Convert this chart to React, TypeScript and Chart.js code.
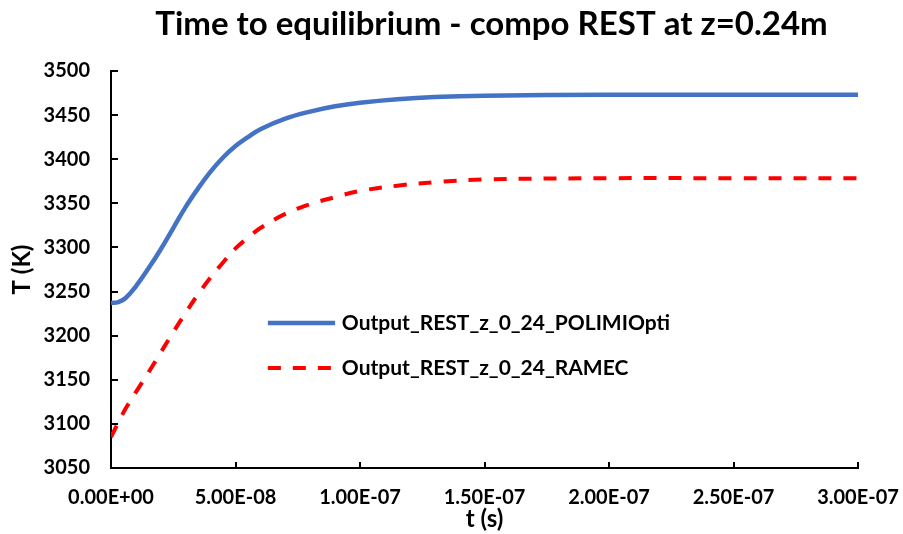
import React, { useEffect, useRef } from "react";
import { Chart, registerables } from "chart.js";

Chart.register(...registerables);

const TITLE = "Time to equilibrium - compo REST at z=0.24m";
const X_TITLE = "t (s)";
const Y_TITLE = "T (K)";
const SERIES_NAMES = ["Output_REST_z_0_24_POLIMIOpti", "Output_REST_z_0_24_RAMEC"];

// time in nanoseconds
const timeNs = [0, 3, 6, 10, 15, 20, 25, 30, 35, 40, 45, 50, 55, 60, 70, 80, 90, 100, 115, 130, 150, 200, 250, 300];
const polimiT = [3237, 3238, 3243, 3256, 3276, 3298, 3322, 3346, 3367, 3386, 3402, 3415, 3425, 3434, 3446, 3454, 3460, 3464, 3468, 3470.5, 3472, 3473, 3473, 3473];
const ramecT = [3085, 3102, 3118, 3136, 3158, 3181, 3204, 3226, 3247, 3266, 3283, 3299, 3311, 3322, 3338, 3349, 3357, 3364, 3370, 3374, 3377, 3378.5, 3378.5, 3378.5];

const Y_MIN = 3050;
const Y_MAX = 3500;
const Y_STEP = 50;
const X_MIN = 0;
const X_MAX = 3e-7;
const X_STEP = 5e-8;

const FONT = "Lato";

function fmtSci(v: number): string {
  if (Math.abs(v) < 1e-20) return "0.00E+00";
  const [m, e] = v.toExponential(2).split("e");
  const n = parseInt(e, 10);
  const sign = n < 0 ? "-" : "+";
  return m + "E" + sign + String(Math.abs(n)).padStart(2, "0");
}

export default function App() {
  const ref = useRef<HTMLCanvasElement | null>(null);

  useEffect(() => {
    document.body.style.margin = "0";
    const canvas = ref.current;
    if (!canvas) return;

    const innerTicks = {
      id: "innerTicks",
      afterDraw(chart: any) {
        const ctx = chart.ctx;
        const ca = chart.chartArea;
        const xs = chart.scales.x;
        const ys = chart.scales.y;
        ctx.save();
        ctx.strokeStyle = "#000";
        ctx.lineWidth = 2;
        ctx.beginPath();
        xs.ticks.forEach((t: any) => {
          const px = Math.round(xs.getPixelForValue(t.value));
          ctx.moveTo(px, ca.bottom);
          ctx.lineTo(px, ca.bottom - 6);
        });
        ys.ticks.forEach((t: any) => {
          const py = Math.round(ys.getPixelForValue(t.value));
          ctx.moveTo(ca.left, py);
          ctx.lineTo(ca.left + 7, py);
        });
        ctx.stroke();
        ctx.restore();
      },
    };

    const titleAndLegend = {
      id: "titleAndLegend",
      afterDraw(chart: any) {
        const ctx = chart.ctx;
        const ca = chart.chartArea;
        const w = ca.right - ca.left;
        const h = ca.bottom - ca.top;
        ctx.save();
        // Title
        ctx.fillStyle = "#000";
        ctx.font = `bold 33px ${FONT}`;
        ctx.textAlign = "center";
        ctx.textBaseline = "middle";
        ctx.fillText(TITLE, (ca.left + ca.right) / 2 + 7, 24);
        // Legend
        const x0 = ca.left + 0.21 * w;
        const x1 = ca.left + 0.3 * w;
        const tx = ca.left + 0.309 * w;
        const ys = [ca.top + 0.635 * h, ca.top + 0.748 * h];
        chart.data.datasets.forEach((ds: any, i: number) => {
          ctx.beginPath();
          ctx.strokeStyle = ds.borderColor;
          ctx.lineWidth = ds.borderWidth;
          ctx.setLineDash(ds.borderDash || []);
          ctx.lineCap = "butt";
          ctx.moveTo(x0, ys[i]);
          ctx.lineTo(x1, ys[i]);
          ctx.stroke();
          ctx.setLineDash([]);
          ctx.fillStyle = "#000";
          ctx.font = `bold 21px ${FONT}`;
          ctx.textAlign = "left";
          ctx.textBaseline = "middle";
          ctx.fillText(ds.label, tx, ys[i]);
        });
        ctx.restore();
      },
    };

    const chart = new Chart(canvas, {
      type: "line",
      data: {
        datasets: [
          {
            label: SERIES_NAMES[0],
            data: timeNs.map((t, i) => ({ x: t * 1e-9, y: polimiT[i] })),
            borderColor: "#4472C4",
            backgroundColor: "#4472C4",
            borderWidth: 4.5,
            pointRadius: 0,
            tension: 0.4,
            fill: false,
          },
          {
            label: SERIES_NAMES[1],
            data: timeNs.map((t, i) => ({ x: t * 1e-9, y: ramecT[i] })),
            borderColor: "#FF0000",
            backgroundColor: "#FF0000",
            borderWidth: 4,
            borderDash: [13, 12],
            pointRadius: 0,
            tension: 0.4,
            fill: false,
          },
        ],
      },
      options: {
        animation: false,
        responsive: false,
        maintainAspectRatio: false,
        layout: { padding: { top: 71, right: 45, bottom: 0, left: 0 } },
        plugins: {
          legend: { display: false },
          title: { display: false },
          tooltip: { enabled: false },
        },
        scales: {
          x: {
            type: "linear",
            min: X_MIN,
            max: X_MAX,
            afterFit: (s: any) => {
              s.height = 66;
              s.paddingLeft = 0;
              s.paddingRight = 0;
            },
            grid: { display: true, drawOnChartArea: false, drawTicks: false },
            border: { display: true, color: "#000", width: 2 },
            ticks: {
              stepSize: X_STEP,
              autoSkip: false,
              maxRotation: 0,
              padding: 18,
              color: "#000",
              font: { family: FONT, size: 20, weight: "bold" },
              callback: (v: any) => fmtSci(Number(v)),
            },
            title: {
              display: true,
              text: X_TITLE,
              color: "#000",
              font: { family: FONT, size: 24, weight: "bold" },
              padding: { top: 0, bottom: 0 },
            },
          },
          y: {
            type: "linear",
            min: Y_MIN,
            max: Y_MAX,
            afterFit: (s: any) => {
              s.width = 111;
              s.paddingTop = 0;
              s.paddingBottom = 0;
            },
            grid: { display: true, drawOnChartArea: false, drawTicks: false },
            border: { display: true, color: "#000", width: 2 },
            ticks: {
              stepSize: Y_STEP,
              autoSkip: false,
              padding: 21,
              color: "#000",
              font: { family: FONT, size: 20, weight: "bold" },
              callback: (v: any) => String(Math.round(Number(v))),
            },
            title: {
              display: true,
              text: Y_TITLE,
              color: "#000",
              font: { family: FONT, size: 24, weight: "bold" },
              padding: { top: 8, bottom: 0 },
            },
          },
        },
      },
      plugins: [innerTicks, titleAndLegend],
    } as any);

    return () => chart.destroy();
  }, []);

  return <canvas ref={ref} width={903} height={534} style={{ display: "block" }} />;
}
